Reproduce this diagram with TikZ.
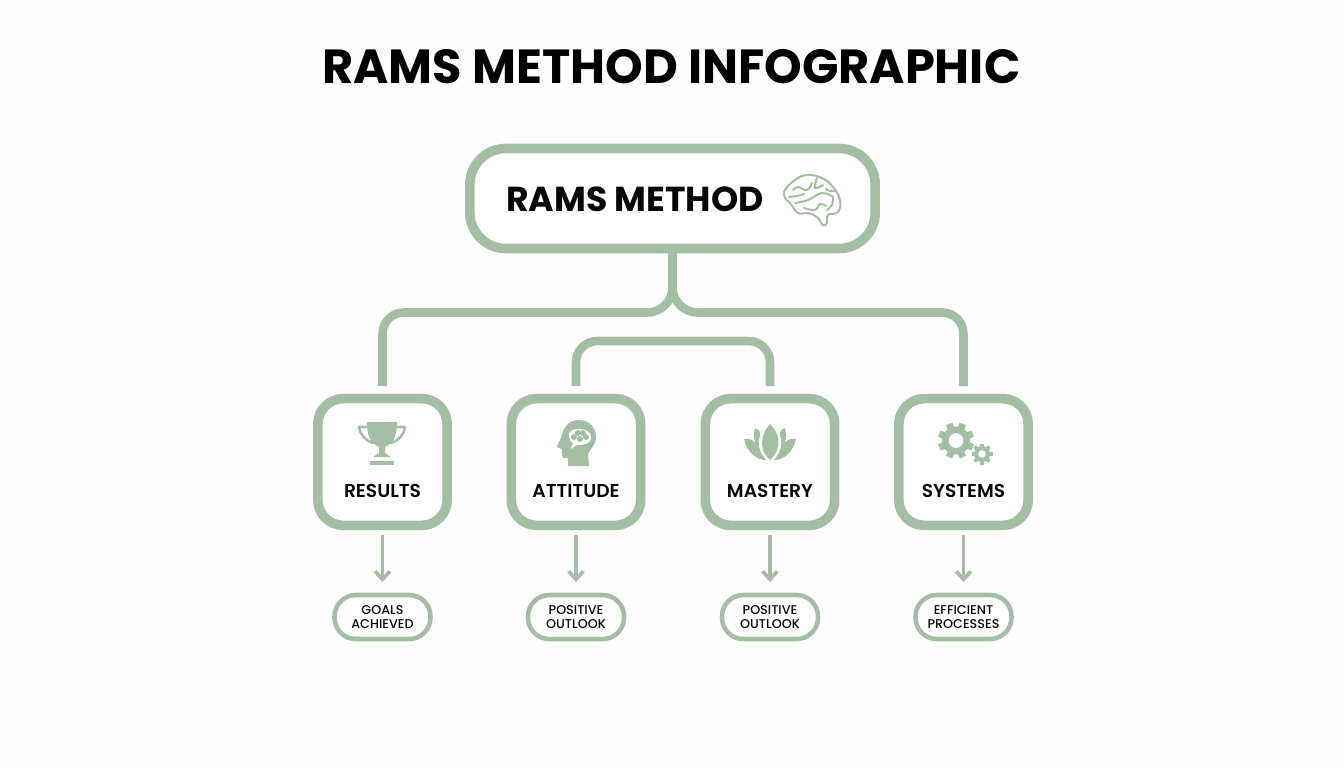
\documentclass[tikz,border=0pt]{standalone}
\usepackage{fontspec}
\setmainfont{Poppins}[BoldFont={Poppins SemiBold}]
\newfontfamily\heavyfont{Poppins}[UprightFont={* Bold}]
\newfontfamily\mediumfont{Poppins Medium}
\usetikzlibrary{arrows.meta}
\definecolor{LineClr}{RGB}{163,190,162}
\definecolor{PageClr}{RGB}{253,254,253}
\definecolor{InkClr}{RGB}{8,8,8}
\tikzset{
  bigbox/.style={draw=LineClr,line width=7.2pt,fill=white,rounded corners=19pt,minimum width=97pt,minimum height=95pt,inner sep=0pt},
  rootbox/.style={bigbox,rounded corners=27pt,minimum width=304pt,minimum height=75pt},
  pill/.style={draw=LineClr,line width=3.4pt,fill=white,rounded corners=16pt,minimum width=72pt,minimum height=33pt,inner sep=0pt,align=center,text=InkClr,font=\mediumfont\fontsize{9.55}{10.2}\selectfont},
  boxlabel/.style={text=InkClr,font=\bfseries\fontsize{14}{14}\selectfont,inner sep=0pt},
  link/.style={draw=LineClr,line width=6.4pt},
  down/.style={draw=LineClr,line width=2.8pt,-{Straight Barb[length=6pt,width=11pt,line width=2.8pt]},shorten <=4pt,shorten >=8pt},
  icon/.style={fill=LineClr,draw=none},
  iconline/.style={draw=LineClr,line width=1.5pt,fill=none,line cap=round,line join=round},
}
\begin{document}
\begin{tikzpicture}[x=0.75pt,y=-0.75pt]
\fill[PageClr] (0,0) rectangle (1344,768);
\useasboundingbox (0,0) rectangle (1344,768);

\node[text=black,font=\heavyfont\fontsize{35.9}{40}\selectfont,inner sep=0pt] (title) at (671.5,67) {RAMS METHOD INFOGRAPHIC};

\node[rootbox] (root) at (672.5,198.5) {};
\node[text=InkClr,font=\heavyfont\fontsize{26}{28}\selectfont,inner sep=0pt] (rootlabel) at (635,199) {RAMS METHOD};

% four boxes
\node[bigbox] (results) at (382.5,462) {};
\node[bigbox] (attitude) at (576,462) {};
\node[bigbox] (mastery) at (770,462) {};
\node[bigbox] (systems) at (963.5,462) {};

\node[boxlabel] (resultslabel) at (382.5,491) {RESULTS};
\node[boxlabel] (attitudelabel) at (576,491) {ATTITUDE};
\node[boxlabel] (masterylabel) at (770,491) {MASTERY};
\node[boxlabel] (systemslabel) at (963.5,491) {SYSTEMS};

\node[pill] (goals) at (382.5,617) {GOALS\\ACHIEVED};
\node[pill] (outlookA) at (576,617) {POSITIVE\\OUTLOOK};
\node[pill] (outlookB) at (770,617) {POSITIVE\\OUTLOOK};
\node[pill] (processes) at (963.5,617) {EFFICIENT\\PROCESSES};

% connector ends stop short of the boxes
\coordinate (resultstop) at (382.5,386);
\coordinate (attitudetop) at (576,386);
\coordinate (masterytop) at (770,386);
\coordinate (systemstop) at (963.5,386);

\draw[link] (root.south) -- (672.5,287.5) .. controls (672.5,301) and (661,312.5) .. (647.5,312.5) [rounded corners=16pt] -- (382.5,312.5) -- (resultstop);
\draw[link] (root.south) -- (672.5,287.5) .. controls (672.5,301) and (684,312.5) .. (697.5,312.5) [rounded corners=16pt] -- (963.5,312.5) -- (systemstop);
\draw[link,rounded corners=16pt] (attitudetop) -- (576,341) -- (770,341) -- (masterytop);

\foreach \a/\b in {results/goals,attitude/outlookA,mastery/outlookB,systems/processes}
  \draw[down] (\a.south) -- (\b.north);

% brain
\begin{scope}[shift={(812,200)}]
\draw[iconline] plot[smooth cycle,tension=0.7] coordinates {(-17,-20) (-5,-25) (10,-22) (21,-13) (28,0) (26,12) (16,15) (15,23) (11,25) (5,17) (-4,13) (-14,13) (-22,3) (-27,-2) (-27,-10)};
\draw[iconline] plot[smooth,tension=0.7] coordinates {(-17,3) (-4,0) (10,-7) (21,-3)};
\draw[iconline] plot[smooth,tension=0.7] coordinates {(-19,-10) (-14,-13) (-5,-10) (0,-17)};
\draw[iconline] plot[smooth,tension=0.7] coordinates {(5,-22) (3,-12) (11,-15)};
\draw[iconline] plot[smooth,tension=0.7] coordinates {(14,-11) (18,-9) (24,-9)};
\draw[iconline] plot[smooth,tension=0.7] coordinates {(-8,8) (3,10) (8,4) (14,6)};
\draw[iconline] plot[smooth,tension=0.7] coordinates {(21,-3) (20,5) (15,10)};
\draw[iconline] plot[smooth,tension=0.7] coordinates {(-23,-3) (-15,-4) (-8,-6)};
\end{scope}

% trophy
\begin{scope}[shift={(382,443)}]
\fill[icon] (-15,-21) -- (15,-21) .. controls (15,-8) and (12,0) .. (3,4) -- (3,10) -- (9,14) -- (-9,14) -- (-3,10) -- (-3,4) .. controls (-12,0) and (-15,-8) .. (-15,-21) -- cycle;
\fill[icon] (-12,18) rectangle (12,22);
\draw[iconline,line width=1.9pt] (-15,-16) -- (-23,-16) .. controls (-22,-8) and (-17,-3) .. (-9,0);
\draw[iconline,line width=1.9pt] (15,-16) -- (23,-16) .. controls (22,-8) and (17,-3) .. (9,0);
\end{scope}

% head with speech bubble
\begin{scope}[shift={(577,443)}]
\fill[icon] (-9,23) -- (-9,15) -- (-13,15) .. controls (-16,14) and (-15,9) .. (-15,6) -- (-20,4) .. controls (-19,0) and (-16,-4) .. (-15,-8) .. controls (-13,-18) and (-6,-23) .. (2,-23) .. controls (12,-23) and (19,-15) .. (19,-6) .. controls (19,2) and (13,6) .. (11,11) -- (12,23) -- cycle;
\fill[white] (-8,-6) .. controls (-11,-17) and (14,-17) .. (14,-6) .. controls (14,1) and (7,2) .. (0,2) -- (-6,6) -- (-4,0) .. controls (-6,-1) and (-8,-3) .. (-8,-6) -- cycle;
\foreach \p in {(-3,-6),(1,-10),(6,-10),(9,-6),(3,-4)}
  \fill[icon] \p circle (3);
\end{scope}

% lotus
\begin{scope}[shift={(771,443)}]
\fill[icon] (-1,-19) .. controls (-9,-10) and (-10,-1) .. (-8,7) .. controls (-6,12) and (-3,15) .. (-1,17) .. controls (1,15) and (4,12) .. (6,7) .. controls (9,-1) and (8,-10) .. (-1,-19) -- cycle;
\fill[icon] (-16,-15) .. controls (-10,-13) and (-11,-9) .. (-11,-7) .. controls (-14,1) and (-12,8) .. (-7,14) .. controls (-15,8) and (-19,-5) .. (-16,-15) -- cycle;
\fill[icon] (14,-15) .. controls (8,-13) and (9,-9) .. (9,-7) .. controls (12,1) and (10,8) .. (5,14) .. controls (13,8) and (17,-5) .. (14,-15) -- cycle;
\fill[icon] (-27,-4) .. controls (-20,-5) and (-16,-2) .. (-15,2) .. controls (-13,8) and (-9,12) .. (-5,17) .. controls (-15,17) and (-24,9) .. (-27,-4) -- cycle;
\fill[icon] (25,-4) .. controls (18,-5) and (14,-2) .. (13,2) .. controls (11,8) and (7,12) .. (3,17) .. controls (13,17) and (22,9) .. (25,-4) -- cycle;
\end{scope}

% gears
\begin{scope}[shift={(956,440.5)}]
\foreach \r in {0,45,...,315}
  \fill[icon,rotate=\r+22.5] (-3.4,-18) rectangle (3.4,-12);
\fill[icon,even odd rule] (0,0) circle (14) (0,0) circle (7.5);
\end{scope}
\begin{scope}[shift={(982,454)}]
\foreach \r in {0,45,...,315}
  \fill[icon,rotate=\r] (-1.8,-10.5) rectangle (1.8,-6);
\fill[icon,even odd rule] (0,0) circle (8) (0,0) circle (4);
\end{scope}
\end{tikzpicture}
\end{document}
